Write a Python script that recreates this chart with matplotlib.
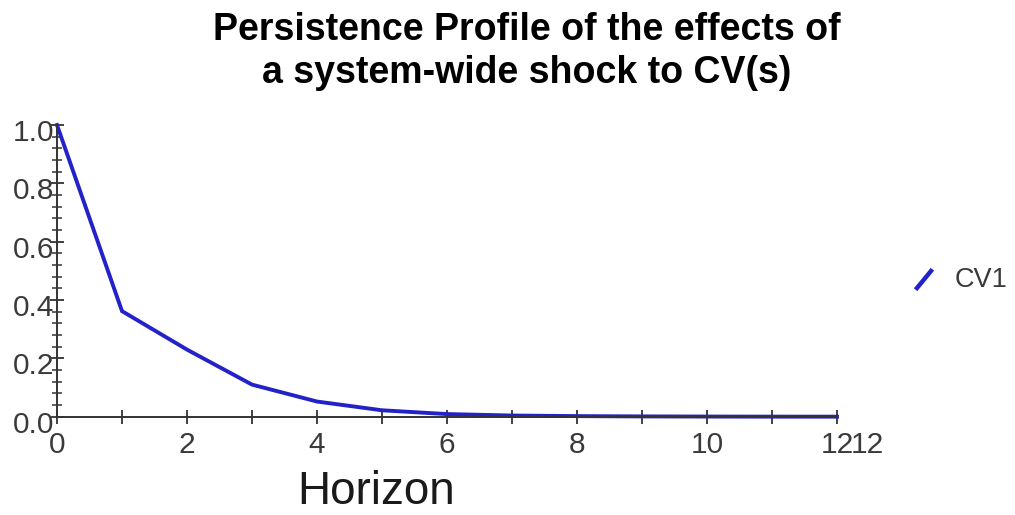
import matplotlib
matplotlib.use('Agg')
import matplotlib.pyplot as plt
from matplotlib.lines import Line2D
from matplotlib.ticker import MultipleLocator
from matplotlib.transforms import ScaledTranslation

plt.rcParams['font.family'] = ['Liberation Sans', 'DejaVu Sans']

# Persistence profile, system-wide shock to CV(s)
horizon = [0, 1, 2, 3, 4, 5, 6, 7, 8, 9, 10, 11, 12]
cv1 = [1.0, 0.362, 0.230, 0.110, 0.052, 0.022, 0.009, 0.004, 0.002, 0.001, 0.0005, 0.0002, 0.0001]

title_lines = ['Persistence Profile of the effects of', 'a system-wide shock to CV(s)']
series_name = 'CV1'
x_label = 'Horizon'

W, H = 1015, 515
fig = plt.figure(figsize=(W / 100, H / 100), dpi=100)
ax = fig.add_axes([57 / W, 1 - 416.7 / H, (837 - 57) / W, (416.7 - 125) / H])

ax.plot(horizon, cv1, color='#2222c8', linewidth=2.8, solid_joinstyle='miter', clip_on=False)

ax.set_xlim(0, 12)
ax.set_ylim(0, 1.0)
ax.xaxis.set_major_locator(MultipleLocator(2))
ax.xaxis.set_minor_locator(MultipleLocator(1))
ax.yaxis.set_major_locator(MultipleLocator(0.2))
ax.yaxis.set_minor_locator(MultipleLocator(0.04))
ax.yaxis.set_major_formatter(lambda v, p: f'{v:.1f}')

for s in ['top', 'right']:
    ax.spines[s].set_visible(False)
for s in ['left', 'bottom']:
    ax.spines[s].set_color('#333333')
    ax.spines[s].set_linewidth(1.4)

ax.tick_params(axis='x', which='both', direction='inout', length=10.5, width=1.3,
               color='#333333', labelsize=21.5, labelcolor='#3a3a3a', pad=5)
ax.tick_params(axis='y', which='major', direction='inout', length=9.5, width=1.3,
               color='#333333', labelsize=21.5, labelcolor='#3a3a3a', pad=-3)
ax.tick_params(axis='y', which='minor', direction='inout', length=6.5, width=1.1,
               color='#333333')

for lab in ax.get_yticklabels():
    lab.set_transform(lab.get_transform() + ScaledTranslation(0, -5 / 100, fig.dpi_scale_trans))

# stray duplicate end label
ax.text(12.47, -0.097, '12', fontsize=21.5, color='#3a3a3a', ha='center', va='center', clip_on=False)

fig.text(376 / W, 1 - 504 / H, x_label, fontsize=33, color='#1a1a1a', ha='center', va='baseline')

fig.text(527 / W, 1 - 40 / H, title_lines[0], fontsize=27, fontweight='bold', ha='center', va='baseline')
fig.text(527 / W, 1 - 83 / H, title_lines[1], fontsize=27, fontweight='bold', ha='center', va='baseline')

# legend entry (diagonal swatch)
fig.add_artist(Line2D([917 / W, 931 / W], [1 - 288 / H, 1 - 271 / H], color='#2222c8',
                      linewidth=3.2, transform=fig.transFigure))
fig.text(955 / W, 1 - 280 / H, series_name, fontsize=19.5, color='#3a3a3a', ha='left', va='center')

fig.savefig('out.png', dpi=100)
